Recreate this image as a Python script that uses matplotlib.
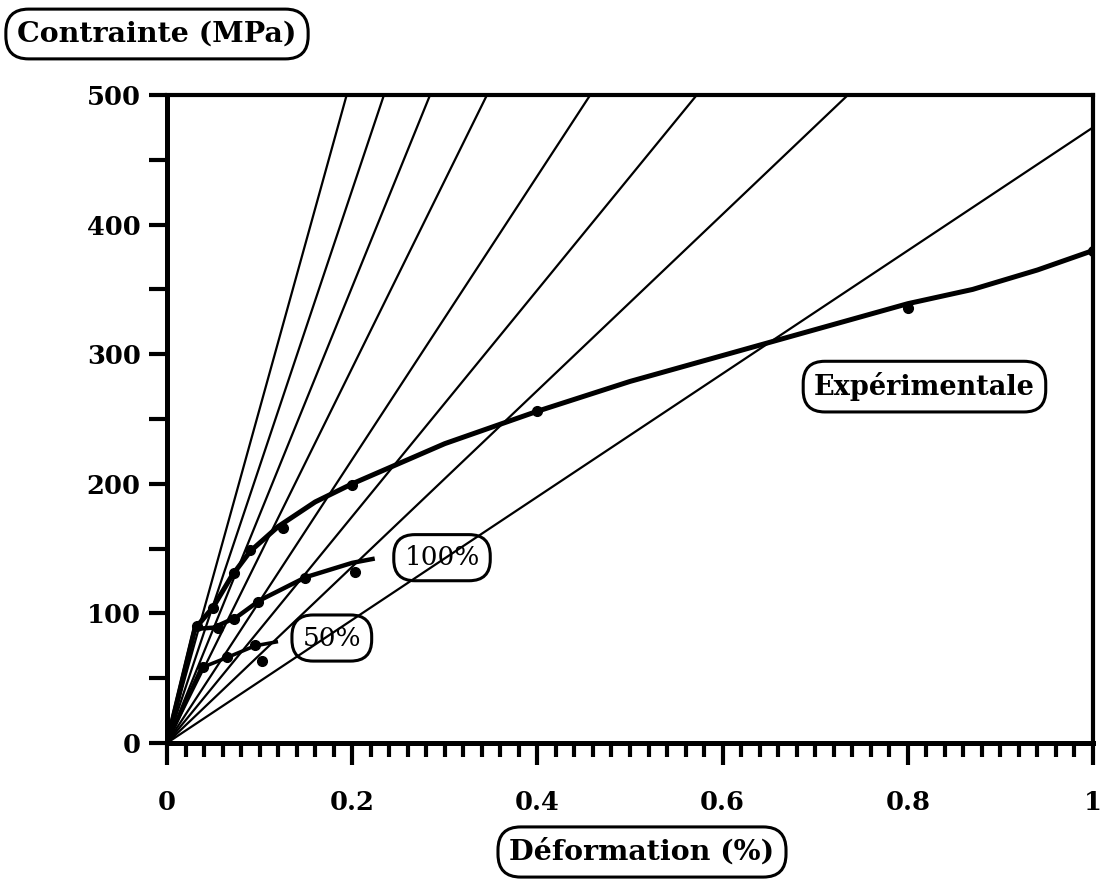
# Contrainte - déformation : courbe expérimentale, courbes 50 % / 100 % et droites issues de l'origine
# plot.py

import numpy as np
import matplotlib.pyplot as plt

# Droites issues de l'origine : pente [MPa/%]
pentes = [2577, 2134, 1760, 1447, 1094, 874, 680, 475]

# Courbe expérimentale (tracé)
exp_x = [0, 0.03, 0.05, 0.07, 0.09, 0.12, 0.16, 0.2, 0.3, 0.4, 0.5, 0.6, 0.7, 0.8, 0.87, 0.94, 1.0]
exp_y = [0, 88, 105, 129, 148, 167, 186, 200, 231, 256, 279, 299, 319, 339, 350, 365, 380]
# Courbe expérimentale (points mesurés)
exp_pts_x = [0.032, 0.05, 0.072, 0.09, 0.125, 0.2, 0.4, 0.8, 1.0]
exp_pts_y = [90, 104, 131, 149, 166, 199, 256, 336, 380]

# Courbe 100 %
c100_x = [0, 0.03, 0.05, 0.075, 0.1, 0.15, 0.2, 0.222]
c100_y = [0, 88, 89, 97, 110, 128, 139, 142]
c100_pts_x = [0.055, 0.072, 0.098, 0.149, 0.203]
c100_pts_y = [89, 96, 109, 127, 132]

# Courbe 50 %
c50_x = [0, 0.037, 0.065, 0.095, 0.118]
c50_y = [0, 58, 66, 75, 78]
c50_pts_x = [0.039, 0.065, 0.095, 0.103]
c50_pts_y = [59, 66, 76, 63]

# Graduations
x_ticks = [0, 0.2, 0.4, 0.6, 0.8, 1.0]
x_labels = ["0", "0.2", "0.4", "0.6", "0.8", "1"]
y_ticks = [0, 100, 200, 300, 400, 500]

plt.rcParams['font.family'] = ['DejaVu Serif']
plt.rcParams['font.weight'] = 'bold'

fig = plt.figure(figsize=(11.11, 8.84), dpi=100)
ax = fig.add_axes([0.1503, 0.1595, 0.8335, 0.733])

# droites issues de l'origine
for p in pentes:
    ax.plot([0, 1.0], [0, p], color="black", lw=1.6, solid_capstyle="butt")

# courbes
ax.plot(exp_x, exp_y, color="black", lw=3.6)
ax.plot(exp_pts_x, exp_pts_y, "o", color="black", ms=7)
ax.plot(c100_x, c100_y, color="black", lw=3.2)
ax.plot(c100_pts_x, c100_pts_y, "o", color="black", ms=7)
ax.plot(c50_x, c50_y, color="black", lw=2.6)
ax.plot(c50_pts_x, c50_pts_y, "o", color="black", ms=7)

ax.set_xlim(0, 1.0)
ax.set_ylim(0, 500)

# axes
for s in ["left", "bottom"]:
    ax.spines[s].set_linewidth(3.6)
for s in ["top", "right"]:
    ax.spines[s].set_linewidth(3.0)

ax.set_xticks(x_ticks)
ax.set_xticklabels(x_labels)
ax.set_xticks(np.arange(0, 1.001, 0.02), minor=True)
ax.set_yticks(y_ticks)
ax.set_yticks(np.arange(0, 501, 50), minor=True)
ax.tick_params(axis="x", which="major", direction="out", length=16, width=3, labelsize=18.5, pad=18)
ax.tick_params(axis="x", which="minor", direction="out", length=10, width=3)
ax.tick_params(axis="y", which="both", direction="out", length=13, width=3, labelsize=18.5, pad=6)

boite = dict(boxstyle="round,pad=0.4,rounding_size=0.8", fc="none", ec="black", lw=2.2)

fig.text(157 / 1111, 1 - 34 / 884, "Contrainte (MPa)", fontsize=20.5, ha="center", va="center", bbox=boite)
fig.text(642 / 1111, 1 - 852 / 884, "Déformation (%)", fontsize=20.5, ha="center", va="center", bbox=boite)
ax.text(0.818, 275, "Expérimentale", fontsize=19.5, ha="center", va="center", bbox=boite)
ax.text(0.297, 143, "100%", fontsize=19, ha="center", va="center", bbox=boite, fontweight="normal")
ax.text(0.178, 81, "50%", fontsize=19, ha="center", va="center", bbox=boite, fontweight="normal")

fig.savefig("out.png", dpi=100)
